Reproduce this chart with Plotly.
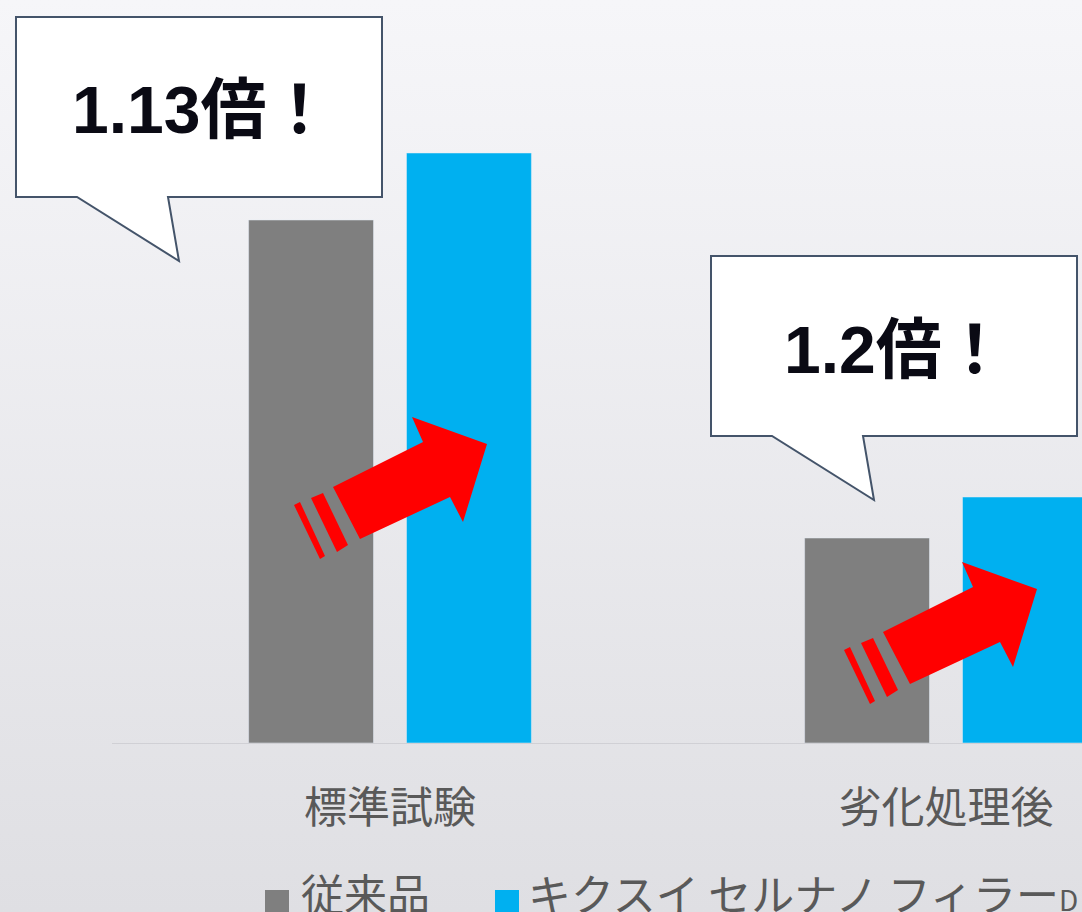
import base64
import plotly.graph_objects as go

WIDTH, HEIGHT = 1082, 912
PLOT_LEFT, PLOT_BOTTOM = 112, 743
PLOT_WIDTH = WIDTH - PLOT_LEFT
FONT = "Noto Sans CJK JP"
CALLOUT_FONT = "Liberation Sans, Noto Sans CJK JP"

# Chart data
categories = ["標準試験", "劣化処理後"]
conventional_name = "従来品"
conventional_values = [5.23, 2.05]
filler_name = "キクスイ セルナノ フィラー"
filler_suffix = "D"
filler_values = [5.90, 2.46]
callout_labels = ["1.13倍！", "1.2倍！"]

GREY = "#7f7f7f"
BLUE = "#00b0f0"
TEXT_GREY = "#595959"
OUTLINE = "#44546a"
RED = "#ff0000"


# Paper coordinates span the plot area, so page pixels are converted relative to it
def px(x):
    return (x - PLOT_LEFT) / PLOT_WIDTH


def py(y):
    return 1 - y / PLOT_BOTTOM


def path(points, dx=0, dy=0):
    """SVG path in paper coordinates from page-pixel outline points."""
    parts = [f"{px(x + dx):.5f},{py(y + dy):.5f}" for x, y in points]
    return "M" + " L".join(parts) + " Z"


def poly_shape(points, fill, dx=0, dy=0, line=None):
    return dict(
        type="path", xref="paper", yref="paper", path=path(points, dx, dy),
        fillcolor=fill, line=line or dict(width=0), layer="above",
    )


# Slide-style vertical background gradient
gradient_svg = (
    f'<svg xmlns="http://www.w3.org/2000/svg" width="{WIDTH}" height="{HEIGHT}" preserveAspectRatio="none">'
    '<defs><linearGradient id="g" x1="0" y1="0" x2="0" y2="1">'
    '<stop offset="0" stop-color="#f6f6f9"/><stop offset="1" stop-color="#dfdfe3"/>'
    '</linearGradient></defs>'
    f'<rect width="{WIDTH}" height="{HEIGHT}" fill="url(#g)"/></svg>'
)
gradient_uri = "data:image/svg+xml;base64," + base64.b64encode(gradient_svg.encode()).decode()

# Outlines of the decorative overlays, in page pixels
arrow_body = [(360, 539), (333, 487), (423, 442), (412, 417), (487, 444), (463, 522), (450, 497)]
arrow_stripe_wide = [(311, 498), (323, 493), (348, 545), (337, 552)]
arrow_stripe_thin = [(294, 505), (300, 502), (325, 556), (320, 559)]
arrow_offset = (550, 145)
bubble_outline = [(16, 17), (382, 17), (382, 197), (168, 197), (179, 261), (77, 197), (16, 197)]
bubble_offset = (695, 239)
bubble_text_pos = [(202, 110), (896, 350)]

shapes = []
for dx, dy in [(0, 0), arrow_offset]:
    for outline in (arrow_body, arrow_stripe_wide, arrow_stripe_thin):
        shapes.append(poly_shape(outline, RED, dx, dy))
for dx, dy in [(0, 0), bubble_offset]:
    shapes.append(poly_shape(bubble_outline, "#ffffff", dx, dy, dict(color=OUTLINE, width=2)))

# Legend swatches run off the lower page edge
shapes.append(poly_shape([(265, 890), (289, 890), (289, 914), (265, 914)], GREY))
shapes.append(poly_shape([(495, 890), (519, 890), (519, 914), (495, 914)], BLUE))

annotations = []
for label, (x, y) in zip(callout_labels, bubble_text_pos):
    annotations.append(dict(
        text=f"<b>{label}</b>", x=px(x), y=py(y), xref="paper", yref="paper",
        xanchor="center", yanchor="middle", showarrow=False,
        font=dict(family=CALLOUT_FONT, size=66, color="#0a0a14"),
    ))
annotations.append(dict(
    text=conventional_name, x=px(299), y=py(892), xref="paper", yref="paper",
    xanchor="left", yanchor="middle", showarrow=False,
    font=dict(family=FONT, size=43, color=TEXT_GREY),
))
annotations.append(dict(
    text=f"{filler_name}<span style='font-size:28px'>{filler_suffix}</span>",
    x=px(526), y=py(892), xref="paper", yref="paper",
    xanchor="left", yanchor="middle", showarrow=False,
    font=dict(family=FONT, size=43, color=TEXT_GREY),
))

fig = go.Figure()
fig.add_bar(name=conventional_name, x=categories, y=conventional_values, marker_color=GREY)
fig.add_bar(name=filler_name + filler_suffix, x=categories, y=filler_values, marker_color=BLUE)

fig.update_layout(
    width=WIDTH, height=HEIGHT,
    margin=dict(l=PLOT_LEFT, r=0, t=0, b=HEIGHT - PLOT_BOTTOM, pad=0),
    barmode="group", bargap=0.432, bargroupgap=0.209,
    showlegend=False,
    paper_bgcolor="rgba(0,0,0,0)", plot_bgcolor="rgba(0,0,0,0)",
    shapes=shapes, annotations=annotations,
    images=[dict(
        source=gradient_uri, xref="paper", yref="paper",
        x=px(0), y=py(0), sizex=WIDTH / PLOT_WIDTH, sizey=HEIGHT / PLOT_BOTTOM,
        xanchor="left", yanchor="top", sizing="stretch", layer="below",
    )],
)
fig.update_xaxes(
    type="category", range=[-0.5, 1.2446], showgrid=False, zeroline=False,
    showline=True, linecolor="#d0d0d5", linewidth=1, ticks="",
    tickfont=dict(family=FONT, size=43, color=TEXT_GREY), ticklabelstandoff=27,
)
fig.update_yaxes(range=[0, 7.43], visible=False)

fig.write_html("out.html", config=dict(displayModeBar=False))
